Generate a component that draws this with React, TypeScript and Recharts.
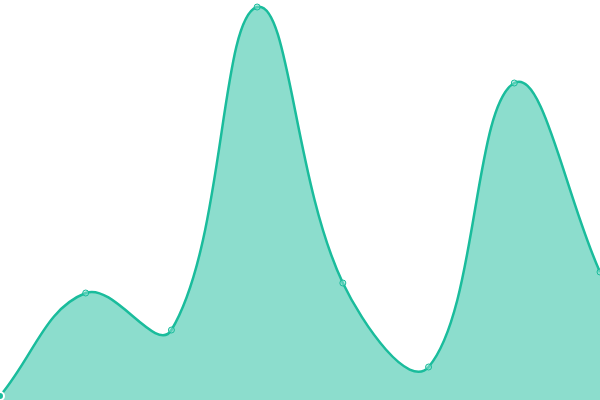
import React from 'react';
import { AreaChart, Area, XAxis, YAxis } from 'recharts';

// values (pixel y -> 400 - y)
const labels: string[] = ['A', 'B', 'C', 'D', 'E', 'F', 'G', 'H'];
const values: number[] = [4, 107, 70, 393, 117, 33, 317, 128];

const data = labels.map((name, i) => ({ name, value: values[i] }));

// tension spline (distance weighted), used as a d3-style curve factory
const TENSION = 0.4;
function splineCurve(context: any) {
  let line = NaN;
  let pts: number[][] = [];
  return {
    areaStart() {
      line = 0;
    },
    areaEnd() {
      line = NaN;
    },
    lineStart() {
      pts = [];
    },
    point(x: number, y: number) {
      pts.push([+x, +y]);
    },
    lineEnd() {
      const n = pts.length;
      if (n) {
        if (line) context.lineTo(pts[0][0], pts[0][1]);
        else context.moveTo(pts[0][0], pts[0][1]);
        const prevCp: number[][] = [];
        const nextCp: number[][] = [];
        for (let i = 0; i < n; i++) {
          const p0 = pts[Math.max(i - 1, 0)];
          const p1 = pts[i];
          const p2 = pts[Math.min(i + 1, n - 1)];
          const d01 = Math.hypot(p1[0] - p0[0], p1[1] - p0[1]);
          const d12 = Math.hypot(p2[0] - p1[0], p2[1] - p1[1]);
          let s01 = d01 / (d01 + d12);
          let s12 = d12 / (d01 + d12);
          if (!isFinite(s01)) s01 = 0;
          if (!isFinite(s12)) s12 = 0;
          const fa = TENSION * s01;
          const fb = TENSION * s12;
          prevCp[i] = [p1[0] - fa * (p2[0] - p0[0]), p1[1] - fa * (p2[1] - p0[1])];
          nextCp[i] = [p1[0] + fb * (p2[0] - p0[0]), p1[1] + fb * (p2[1] - p0[1])];
        }
        for (let i = 1; i < n; i++) {
          context.bezierCurveTo(
            nextCp[i - 1][0], nextCp[i - 1][1],
            prevCp[i][0], prevCp[i][1],
            pts[i][0], pts[i][1]
          );
        }
      }
      if (line || (line !== 0 && n === 1)) context.closePath();
      line = 1 - line;
    },
  };
}

export default function App() {
  return (
    <div style={{ position: 'absolute', left: 0, top: 0 }}>
      <AreaChart width={600} height={400} data={data} margin={{ top: 0, right: 0, left: 0, bottom: 0 }}>
        <XAxis dataKey="name" hide />
        <YAxis domain={[0, 400]} hide />
        <Area
          type={splineCurve as any}
          dataKey="value"
          stroke="#1abc9c"
          strokeWidth={2.5}
          fill="#1abc9c"
          fillOpacity={0.5}
          dot={{ r: 3, fill: '#8ee0cf', stroke: '#1abc9c', strokeWidth: 1 }}
          isAnimationActive={false}
        />
      </AreaChart>
    </div>
  );
}
